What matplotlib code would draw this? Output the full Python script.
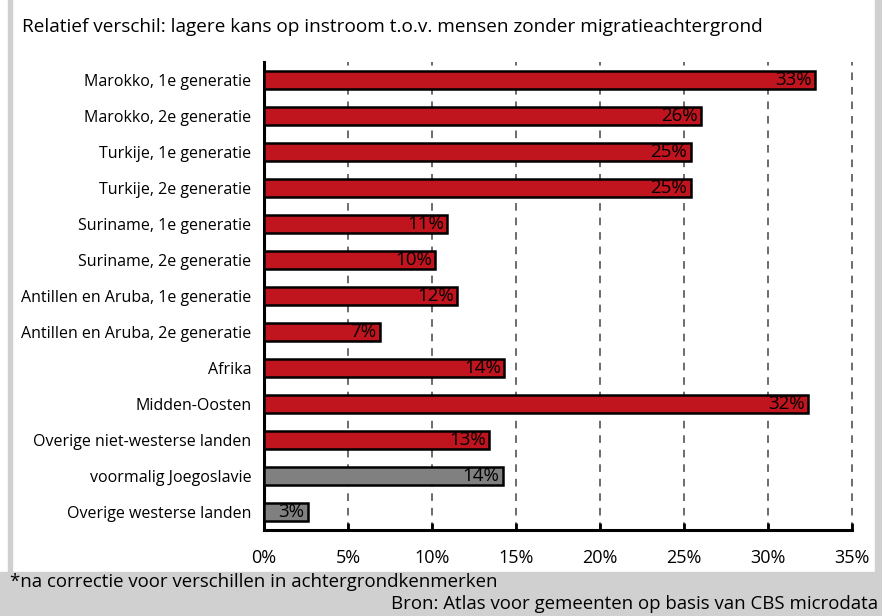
import matplotlib
matplotlib.use("Agg")
import matplotlib.pyplot as plt
from matplotlib.patches import Rectangle
from matplotlib.ticker import FuncFormatter

categories = [
    "Marokko, 1e generatie",
    "Marokko, 2e generatie",
    "Turkije, 1e generatie",
    "Turkije, 2e generatie",
    "Suriname, 1e generatie",
    "Suriname, 2e generatie",
    "Antillen en Aruba, 1e generatie",
    "Antillen en Aruba, 2e generatie",
    "Afrika",
    "Midden-Oosten",
    "Overige niet-westerse landen",
    "voormalig Joegoslavie",
    "Overige westerse landen",
]
values = [32.8, 26.0, 25.4, 25.4, 10.9, 10.2, 11.5, 6.9, 14.3, 32.4, 13.4, 14.2, 2.6]
labels = ["33%", "26%", "25%", "25%", "11%", "10%", "12%", "7%", "14%", "32%", "13%", "14%", "3%"]
colors = ["#C0141E"] * 11 + ["#808080"] * 2
xticks = [0, 5, 10, 15, 20, 25, 30, 35]

FONT = ["Open Sans", "DejaVu Sans"]
plt.rcParams['font.family'] = FONT

W, H = 882, 616
fig = plt.figure(figsize=(W / 100, H / 100), dpi=100)
fig.patch.set_facecolor("white")

# frame decorations
grey = "#D0D0D0"
fig.patches.append(Rectangle((8 / W, 0), 4 / W, 1, transform=fig.transFigure, color=grey, zorder=0))
fig.patches.append(Rectangle((875 / W, 0), 7 / W, 1, transform=fig.transFigure, color=grey, zorder=0))
fig.patches.append(Rectangle((0, 0), 1, 44 / H, transform=fig.transFigure, color=grey, zorder=0))

ax = fig.add_axes([264 / W, 1 - 530 / H, (852 - 264) / W, (530 - 62) / H])
ax.set_facecolor("none")

y = list(range(len(categories)))
ax.barh(y, values, height=0.5, color=colors, edgecolor="black", linewidth=1.8, zorder=3)
for yi, v, lab in zip(y, values, labels):
    ax.text(v - 0.2, yi, lab, ha="right", va="center", fontsize=13.5, color="black",
            zorder=4)

ax.set_xlim(0, 35)
ax.set_ylim(len(categories) - 0.5, -0.5)
ax.set_yticks(y)
ax.set_yticklabels(categories, fontsize=11.5)
ax.tick_params(axis="y", length=0, pad=9)
ax.set_xticks(xticks)
ax.xaxis.set_major_formatter(FuncFormatter(lambda v, p: f"{v:.0f}%"))
ax.tick_params(axis="x", direction="in", length=5, width=2, pad=14, labelsize=13)

for xv in xticks[1:]:
    ax.axvline(xv, color="#444444", linewidth=1.1, linestyle=(0, (5, 4.5)), zorder=1,
               clip_on=False)

for s in ["top", "right"]:
    ax.spines[s].set_visible(False)
ax.spines["left"].set_linewidth(2.2)
ax.spines["bottom"].set_linewidth(2.2)

fig.text(22 / W, 1 - 27 / H, "Relatief verschil: lagere kans op instroom t.o.v. mensen zonder migratieachtergrond",
         ha="left", va="center", fontsize=13.7)
fig.text(10 / W, 1 - 582 / H, "*na correctie voor verschillen in achtergrondkenmerken",
         ha="left", va="center", fontsize=13.4)
fig.text(878 / W, 1 - 604 / H, "Bron: Atlas voor gemeenten op basis van CBS microdata",
         ha="right", va="center", fontsize=13.4)

fig.savefig("out.png", dpi=100)
